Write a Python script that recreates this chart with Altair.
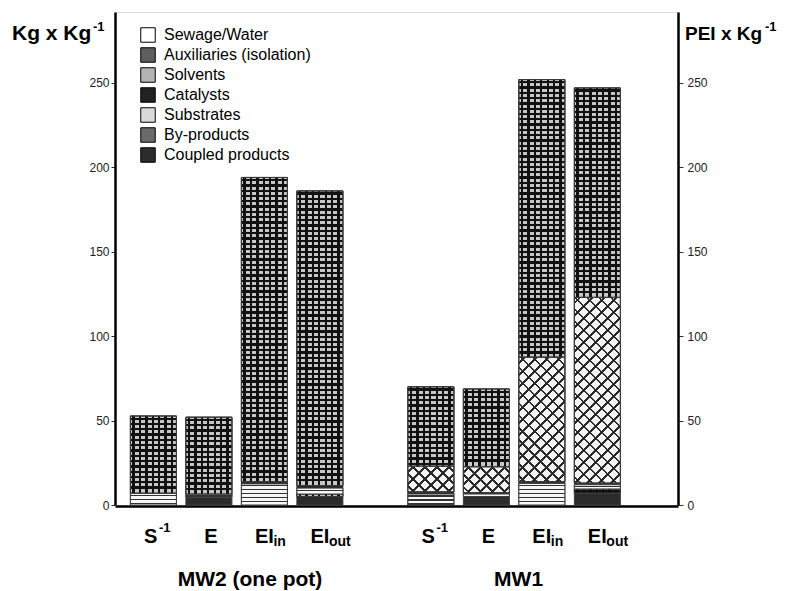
import math
import altair as alt
import pandas as pd

# ---------------- data ----------------
slots = [0, 1, 2, 3, 5, 6, 7, 8]
label_main = ["S", "E", "EI", "EI", "S", "E", "EI", "EI"]
label_script = ["-1", "", "in", "out", "-1", "", "in", "out"]
group_names = ["MW2 (one pot)", "MW1"]
group_pos = [1.74, 6.58]

components = ["Sewage/Water", "Auxiliaries (isolation)", "Solvents", "Catalysts",
              "Substrates", "By-products", "Coupled products"]
sewage = [0, 0, 0, 0, 0, 0, 0, 0]
auxiliaries = [45.7, 45.5, 180.2, 174.5, 47.0, 46.0, 164.4, 124.0]
solvents = [0, 0, 0, 0, 15.2, 15.4, 73.8, 110.0]
catalysts = [0, 0, 1.3, 1.5, 1.3, 0.8, 1.0, 1.0]
substrates = [7.0, 2.0, 12.5, 3.5, 6.5, 1.5, 12.8, 2.5]
byproducts = [0, 0, 0, 1.5, 0, 0, 0, 2.5]
coupled = [0, 4.5, 0, 5.0, 0, 5.0, 0, 7.0]

series = [sewage, auxiliaries, solvents, catalysts, substrates, byproducts, coupled]
fills = ["#ffffff", "#5e5e5e", "#b4b4b4", "#222222", "#dadada", "#6a6a6a", "#2c2c2c"]

# stacked segments (bottom = last component in legend order)
rows = []
for j, s in enumerate(slots):
    base = 0.0
    for ci in range(len(components) - 1, -1, -1):
        v = series[ci][j]
        if v > 0:
            rows.append({"slot": s, "component": components[ci], "start": base, "end": base + v})
            base += v
df = pd.DataFrame(rows)

labels = pd.DataFrame({"slot": slots, "main": label_main, "script": label_script})
group_df = pd.DataFrame({"group": group_names, "pos": group_pos})

FONT = "Liberation Sans"
W, H = 563, 493
YMAX = 292
PX = H / YMAX
BAR = 46
xscale = alt.Scale(domain=[-0.6018, 9.3628], nice=False, zero=False)
yscale = alt.Scale(domain=[0, YMAX], nice=False)


def stripes(direction, w, h, period, lw, line, bg):
    if direction == "h":
        g = dict(x1=0, y1=0, x2=0, y2=1)
        L = h
    elif direction == "v":
        g = dict(x1=0, y1=0, x2=1, y2=0)
        L = w
    else:
        k = h / w
        a = (1 + k) / (1 + k * k)
        if direction == "d1":
            g = dict(x1=0, y1=0, x2=a, y2=a * k)
        else:
            g = dict(x1=0, y1=1, x2=a, y2=1 - a * k)
        L = (w + h) / math.sqrt(2)
    dt = period / L
    lwt = lw / L
    stops = [alt.GradientStop(color=bg, offset=0)]
    i = 0
    while True:
        a0 = i * dt + (dt - lwt) / 2
        a1 = a0 + lwt
        if a1 > 1:
            break
        stops += [alt.GradientStop(color=bg, offset=a0), alt.GradientStop(color=line, offset=a0),
                  alt.GradientStop(color=line, offset=a1), alt.GradientStop(color=bg, offset=a1)]
        i += 1
    stops.append(alt.GradientStop(color=bg, offset=1))
    return alt.LinearGradient(gradient="linear", stops=stops, **g)


CLEAR = "rgba(0,0,0,0)"
pattern_spec = {
    "Auxiliaries (isolation)": [("h", 5.3, 2.3, "#111111", "#c6c6c6"), ("v", 6.4, 2.3, "#111111", CLEAR)],
    "By-products": [("h", 5.3, 2.3, "#111111", "#c6c6c6"), ("v", 6.4, 2.3, "#111111", CLEAR)],
    "Solvents": [("d1", 8.5, 1.8, "#2a2a2a", "#f4f4f4"), ("d2", 8.5, 1.8, "#2a2a2a", CLEAR)],
    "Substrates": [("h", 4.0, 1.1, "#333333", "#f8f8f8")],
}

bars = alt.Chart(df).mark_bar(size=BAR, stroke="#3a3a3a", strokeWidth=1).encode(
    x=alt.X("slot:Q", scale=xscale,
            axis=alt.Axis(labels=False, ticks=False, title=None, grid=False,
                          domainColor="black", domainWidth=2.5, offset=1)),
    y=alt.Y("start:Q", scale=yscale,
            axis=alt.Axis(orient="left", title=None, grid=False, values=[0, 50, 100, 150, 200, 250],
                          domainColor="black", domainWidth=2.5, tickSize=4, tickColor="#333",
                          labelFont=FONT, labelFontSize=12, labelColor="#222", labelPadding=2)),
    y2="end:Q",
    color=alt.Color("component:N",
                    scale=alt.Scale(domain=components, range=fills),
                    legend=alt.Legend(orient="none", legendX=25, legendY=15, title=None,
                                      symbolType="square", symbolSize=210,
                                      symbolStrokeColor="black", symbolStrokeWidth=1,
                                      labelFont=FONT, labelFontSize=16, labelColor="black",
                                      rowPadding=0, labelOffset=8, padding=0)),
)

overlays = []
for r in rows:
    spec = pattern_spec.get(r["component"])
    if not spec:
        continue
    h = (r["end"] - r["start"]) * PX
    if h < 2.5:
        continue
    for (d, per, lw, line, bg) in spec:
        grad = stripes(d, BAR, h, per, lw, line, bg)
        overlays.append(alt.Chart(pd.DataFrame([r])).mark_bar(
            size=BAR, fill=grad, stroke="#3a3a3a", strokeWidth=1).encode(
            x=alt.X("slot:Q", scale=xscale),
            y=alt.Y("start:Q", scale=yscale, axis=None),
            y2="end:Q"))

right_axis = alt.Chart(df).mark_bar(size=BAR, opacity=0).encode(
    x=alt.X("slot:Q", scale=xscale),
    y=alt.Y("start:Q", scale=yscale,
            axis=alt.Axis(orient="right", title=None, grid=False, values=[0, 50, 100, 150, 200, 250],
                          domainColor="black", domainWidth=2.5, tickSize=5, tickColor="#333",
                          labelFont=FONT, labelFontSize=12, labelColor="#222", labelPadding=4)),
    y2="end:Q",
)

base_lab = alt.Chart(labels)
main_txt = base_lab.transform_filter("datum.main != 'E'").mark_text(
    align="left", baseline="alphabetic", dx=-9.5, font=FONT, fontSize=20, fontWeight="bold",
    color="black").encode(x=alt.X("slot:Q", scale=xscale), y=alt.value(531), text="main:N")
e_txt = base_lab.transform_filter("datum.main == 'E'").mark_text(
    align="center", baseline="alphabetic", dx=2, font=FONT, fontSize=20, fontWeight="bold",
    color="black").encode(x=alt.X("slot:Q", scale=xscale), y=alt.value(531), text="main:N")
sup_txt = base_lab.transform_filter("datum.script == '-1'").mark_text(
    align="left", baseline="alphabetic", dx=5.5, font=FONT, fontSize=13, fontWeight="bold",
    color="black").encode(x=alt.X("slot:Q", scale=xscale), y=alt.value(520), text="script:N")
sub_txt = base_lab.transform_filter("datum.script == 'in' || datum.script == 'out'").mark_text(
    align="left", baseline="alphabetic", dx=9, font=FONT, fontSize=14, fontWeight="bold",
    color="black").encode(x=alt.X("slot:Q", scale=xscale), y=alt.value(534), text="script:N")

grp_txt = alt.Chart(group_df).mark_text(
    align="center", baseline="alphabetic", font=FONT, fontSize=21, fontWeight="bold",
    color="black").encode(x=alt.X("pos:Q", scale=xscale), y=alt.value(574), text="group:N")

titles = [("Kg x Kg", -103, 28, 21), ("-1", -22, 19, 13), ("PEI x Kg", 570, 28, 19), ("-1", 650, 19, 13)]
title_layers = []
for t, px, py, fs in titles:
    title_layers.append(alt.Chart(pd.DataFrame({"t": [t]})).mark_text(
        align="left", baseline="alphabetic", font=FONT, fontSize=fs, fontWeight="bold",
        color="black").encode(x=alt.value(px), y=alt.value(py), text="t:N"))

chart = alt.layer(bars, *overlays, right_axis, main_txt, e_txt, sup_txt, sub_txt, grp_txt,
                  *title_layers).resolve_scale(
    y="independent"
).properties(
    width=W, height=H,
    autosize=alt.AutoSizeParams(type="none"),
    padding={"left": 115, "top": 12, "right": 110, "bottom": 86},
).configure_view(strokeWidth=0, stroke="transparent").configure(background="white")

chart.save("out.html", embed_options={"renderer": "svg", "actions": False})
